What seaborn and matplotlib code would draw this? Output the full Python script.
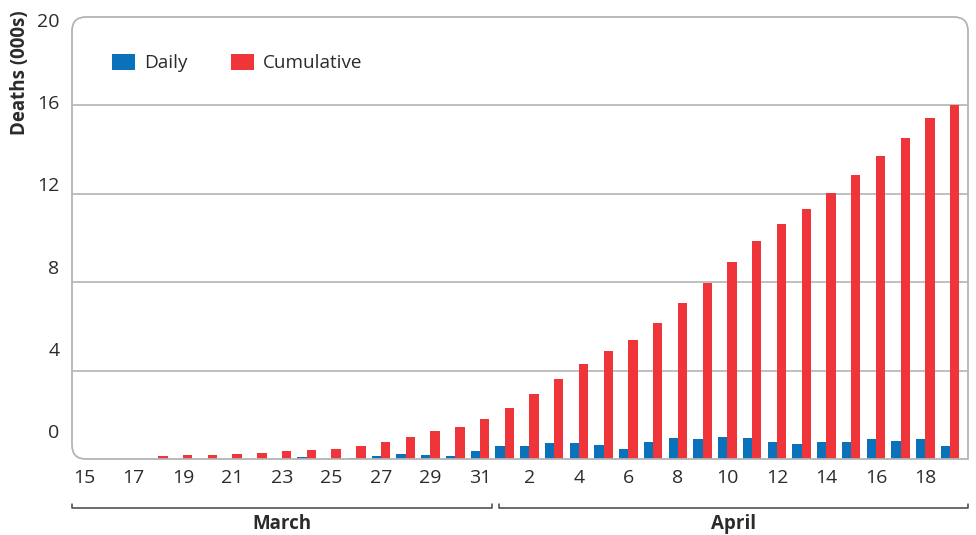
import pandas as pd
import seaborn as sns
import matplotlib.pyplot as plt
from matplotlib.path import Path
from matplotlib.patches import PathPatch
from matplotlib.transforms import blended_transform_factory

### data (thousands of deaths), 15 March - 19 April
dayNumbers = list(range(15, 32)) + list(range(1, 20))
months = ["March"] * 17 + ["April"] * 19

daily = [0, 0, 0, 0, 0, 0, 0, 0, 0, 0.09, 0, 0.06, 0.15, 0.24, 0.20, 0.15, 0.38,
         0.57, 0.57, 0.71, 0.71, 0.62, 0.44, 0.76, 0.94, 0.89, 0.98, 0.94, 0.76,
         0.67, 0.76, 0.76, 0.89, 0.80, 0.89, 0.57]
cumulative = [0, 0, 0, 0.12, 0.17, 0.17, 0.21, 0.26, 0.35, 0.39, 0.44, 0.57, 0.76,
              0.98, 1.25, 1.43, 1.80,
              2.29, 2.93, 3.61, 4.29, 4.87, 5.37, 6.14, 7.05, 7.95, 8.90, 9.85,
              10.62, 11.30, 12.02, 12.84, 13.70, 14.52, 15.43, 16.02]

yTicks = [0, 4, 8, 12, 16, 20]

blue = "#0a72ba"
red = "#ef353a"
grey = "#b4b4b4"
textColour = "#2b2b2b"

###
def prepareData():
    dayKeys = [m[:3] + " " + str(d) for m, d in zip(months, dayNumbers)]
    frame = pd.DataFrame({"day": dayKeys * 2,
                          "series": ["Daily"] * len(daily) + ["Cumulative"] * len(cumulative),
                          "deaths": daily + cumulative})
    return frame, dayKeys


###
def drawFrame(ax):
    w, h = 896.0, 442.0
    rx, ry = 14 / w, 14 / h
    verts = [(0, ry), (0, 1 - ry), (0, 1), (rx, 1), (1 - rx, 1), (1, 1), (1, 1 - ry),
             (1, 0), (rx, 0), (0, 0), (0, ry)]
    codes = [Path.MOVETO, Path.LINETO, Path.CURVE3, Path.CURVE3, Path.LINETO,
             Path.CURVE3, Path.CURVE3, Path.LINETO, Path.LINETO, Path.CURVE3, Path.CURVE3]
    patch = PathPatch(Path(verts, codes), transform=ax.transAxes, fill=False,
                      edgecolor=grey, lw=1.3, clip_on=False, zorder=4)
    ax.add_patch(patch)


###
def plotDeaths():
    sns.set_style("white")
    plt.rcParams["font.family"] = ["Open Sans", "DejaVu Sans"]

    fig = plt.figure(figsize=(9.76, 5.35), dpi=100)
    ax = fig.add_axes([72 / 976, 1 - 459 / 535, 896 / 976, 442 / 535])

    sns.barplot(data=deathsData, x="day", y="deaths", hue="series", order=dayKeys,
                hue_order=["Daily", "Cumulative"], palette={"Daily": blue, "Cumulative": red},
                width=0.75, saturation=1, linewidth=0, ax=ax, zorder=3)

    ax.set_xlim(-0.485, 35.72)
    ax.set_ylim(0, 20)
    for s in ax.spines.values():
        s.set_visible(False)

    for v in yTicks[1:-1]:
        ax.axhline(v, color=grey, lw=1.2, zorder=1)
    drawFrame(ax)

    # y labels sit a little above their grid lines
    ax.set_yticks([v * 0.93 + 1.27 for v in yTicks], [str(v) for v in yTicks])
    ax.tick_params(axis="y", length=0, pad=9, labelsize=14, labelcolor=textColour)

    tickPos = list(range(0, len(dayKeys), 2))
    ax.set_xticks(tickPos, [str(dayNumbers[i]) for i in tickPos])
    ax.tick_params(axis="x", length=0, pad=7, labelsize=14, labelcolor=textColour)
    ax.set_xlabel("")
    ax.set_ylabel("")

    fig.text(20 / 976, 1 - 10 / 535, "Deaths (000s)", rotation=90, ha="center", va="top",
             fontsize=13.5, fontweight="bold", color=textColour)

    # month brackets
    trans = blended_transform_factory(ax.transData, ax.transAxes)
    for label, x0, x1 in [("March", -0.5, 16.5), ("April", 16.75, 35.72)]:
        ax.plot([x0, x0, x1, x1], [-0.101, -0.111, -0.111, -0.101], color="#444444",
                lw=1.1, transform=trans, clip_on=False)
        ax.text((x0 + x1) / 2, -0.147, label, transform=trans, ha="center", va="center",
                fontsize=13.5, fontweight="bold", color=textColour)

    ax.legend(title=None, loc="center left", bbox_to_anchor=(0.0255, 0.896), ncol=2,
              frameon=False, fontsize=13.6, handlelength=1.2, handleheight=0.95,
              handletextpad=0.5, columnspacing=2.3, labelcolor=textColour)

    fig.savefig("out.png", dpi=100)


###
if __name__ == '__main__':

    deathsData, dayKeys = prepareData()
    plotDeaths()
